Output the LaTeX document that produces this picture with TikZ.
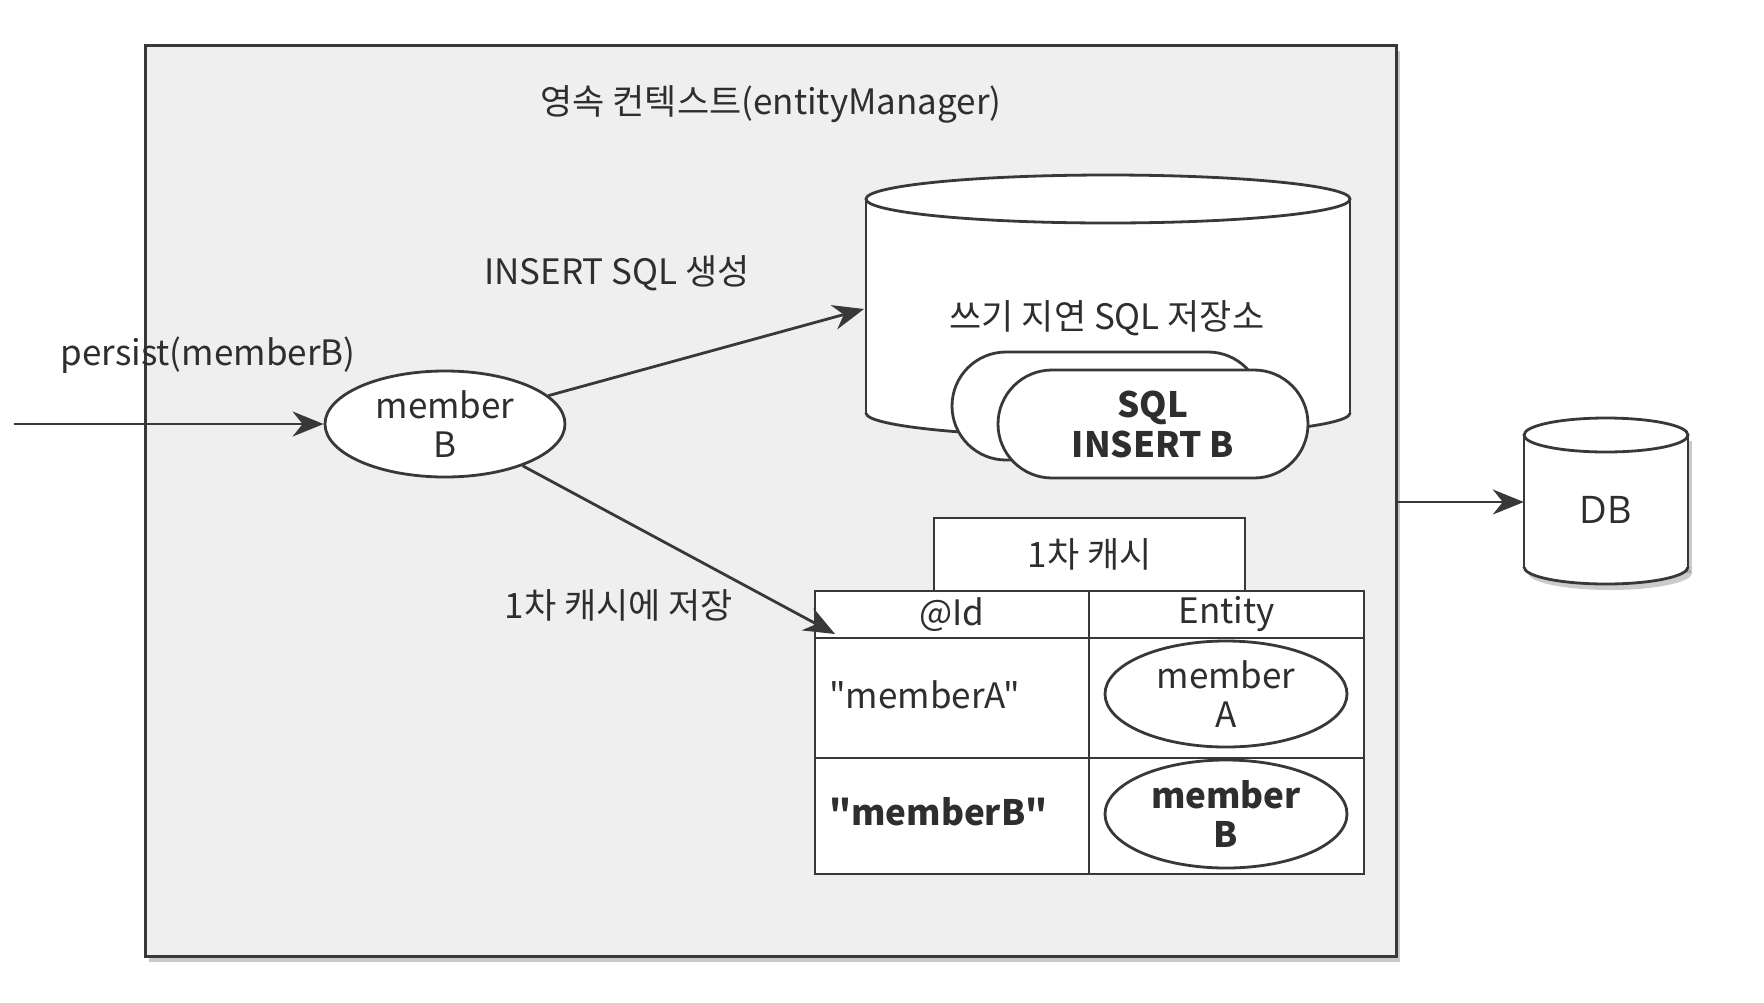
\documentclass[tikz,border=0pt]{standalone}
\usepackage{fontspec}
\setmainfont{Noto Sans CJK KR}
\newfontfamily\plainq{Noto Sans CJK KR}
\newfontfamily\dbfont{Open Sans}
\usetikzlibrary{arrows.meta,shadows,shapes.geometric}
\definecolor{ln}{HTML}{383838}
\definecolor{tx}{HTML}{2E2E2E}
\definecolor{boxbg}{HTML}{EFEFEF}
\begin{document}
\begin{tikzpicture}[x=1pt,y=-1pt,
  every node/.style={text=tx, font=\fontsize{35}{39}\selectfont},
  arr/.style={draw=ln, line width=2.8pt, -{Stealth[length=31pt,width=25pt,inset=10pt]}},
  shp/.style={draw=ln, line width=2.8pt, fill=white},
  lbl/.style={inner sep=0pt},
  ell/.style={shp, ellipse, inner sep=0pt, align=center},
  cell/.style={shp, rectangle, inner sep=0pt},
  pill/.style={shp, rectangle, rounded corners=54pt, inner sep=0pt, minimum width=310pt, minimum height=108pt, align=center}
]
\useasboundingbox (0,0) rectangle (1764,1002);
\fill[white] (0,0) rectangle (1764,1002);

% persistence context box
\node[draw=ln, line width=3pt, fill=boxbg, minimum width=1251pt, minimum height=911pt, inner sep=0pt,
  drop shadow={shadow xshift=4pt, shadow yshift=-5pt, fill=black!60, opacity=.35}] (pc) at (770.5,501) {};
\node[lbl] (title) at (771,104) {영속 컨텍스트(entityManager)};

% write-behind SQL store (cylinder)
\node[inner sep=0pt, minimum width=484pt, minimum height=262pt] (cyl) at (1108,306) {};
\fill[white] (866,199) rectangle (1350,413);
\fill[white] (1108,413) ellipse [x radius=242pt, y radius=24pt];
\begin{scope}
  \clip (860,413) rectangle (1360,445);
  \draw[ln, line width=2.8pt] (1108,413) ellipse [x radius=242pt, y radius=24pt];
\end{scope}
\draw[ln, line width=2.8pt] (866,199) -- (866,413) (1350,199) -- (1350,413);
\draw[shp] (1108,199) ellipse [x radius=242pt, y radius=24pt];
\node[lbl] (cyltxt) at (1107,318) {쓰기 지연 SQL 저장소};

\node[pill] (pill1) at (1107,406) {};
\node[pill, font=\bfseries\fontsize{35}{40}\selectfont] (pill2) at (1153,424) {SQL\\INSERT B};

% member B entity
\node[ell, minimum width=240pt, minimum height=106pt] (mB) at (445,424) {member\\B};

% first-level cache
\node[cell, minimum width=311pt, minimum height=73pt] (cache) at (1089.5,554.5) {1차 캐시};
\node[cell, minimum width=274pt, minimum height=47pt] (hid) at (952,614.5) {@Id};
\node[cell, minimum width=275pt, minimum height=47pt] (hen) at (1226.5,614.5) {Entity};
\node[cell, minimum width=274pt, minimum height=120pt] (r1id) at (952,698) {};
\node[cell, minimum width=275pt, minimum height=120pt] (r1en) at (1226.5,698) {};
\node[cell, minimum width=274pt, minimum height=116pt] (r2id) at (952,816) {};
\node[cell, minimum width=275pt, minimum height=116pt] (r2en) at (1226.5,816) {};
\node[lbl, anchor=west, font=\plainq\fontsize{35}{39}\selectfont] (ka) at (829,695) {"memberA"};
\node[lbl, anchor=west, font=\plainq\bfseries\fontsize{35}{39}\selectfont] (kb) at (829,812) {"memberB"};
\node[ell, minimum width=242pt, minimum height=106pt] (eA) at (1226,694) {member\\A};
\node[ell, minimum width=242pt, minimum height=108pt, font=\bfseries\fontsize{35}{39}\selectfont] (eB) at (1226,814) {member\\B};

% DB cylinder
\node[inner sep=0pt, minimum width=164pt, minimum height=166pt] (db) at (1606,502) {};
\begin{scope}[shift={(4,6)}]
  \fill[black!45, opacity=.45] (1524,435) rectangle (1688,567);
  \fill[black!45, opacity=.45] (1606,567) ellipse [x radius=82pt, y radius=17pt];
\end{scope}
\fill[white] (1524,435) rectangle (1688,567);
\fill[white] (1606,567) ellipse [x radius=82pt, y radius=17pt];
\begin{scope}
  \clip (1515,567) rectangle (1700,590);
  \draw[ln, line width=2.8pt] (1606,567) ellipse [x radius=82pt, y radius=17pt];
\end{scope}
\draw[ln, line width=2.8pt] (1524,435) -- (1524,567) (1688,435) -- (1688,567);
\draw[shp] (1606,435) ellipse [x radius=82pt, y radius=17pt];
\node[lbl, font=\dbfont\fontsize{38}{42}\selectfont] (dbtxt) at (1606,510) {DB};

% labels
\node[lbl] (lpersist) at (208,355) {persist(memberB)};
\node[lbl] (lgen) at (617,273) {INSERT SQL 생성};
\node[lbl] (lstore) at (619,605) {1차 캐시에 저장};

% connectors
\coordinate (src) at (14,424);
\coordinate (c1) at (864,309);
\coordinate (c2) at (835,634);
\draw[arr] (src) -- (mB);
\draw[arr] (mB) -- (c1);
\draw[arr] (mB) -- (c2);
\draw[arr] (pc.east |- db.west) -- (db.west);
\end{tikzpicture}
\end{document}
